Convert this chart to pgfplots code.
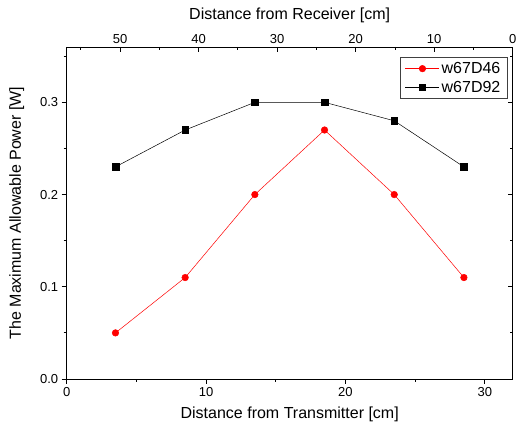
\documentclass[border=0pt]{standalone}
\usepackage{fontspec}
\setmainfont{Liberation Sans}
\usepackage{pgfplots}
\pgfplotsset{compat=1.18}
\begin{document}
\begin{tikzpicture}
\path[use as bounding box] (-66.7pt,-49pt) rectangle (450.3pt,379pt);
\pgfplotsset{
  common/.style={
    width=446pt, height=332pt, scale only axis,
    ymin=0, ymax=0.36,
    ytick={0,0.1,0.2,0.3}, minor ytick={0.05,0.15,0.25,0.35},
    axis line style={-, line width=0.8pt, black},
    major tick length=5pt, minor tick length=3pt,
    every tick/.style={black, line width=0.8pt},
    tick label style={font=\fontsize{13}{15}\selectfont},
    label style={font=\fontsize{16}{18}\selectfont},
    /pgf/number format/assume math mode=true,
  }
}
\begin{axis}[common,
  xmin=0, xmax=32,
  axis x line*=bottom, axis y line*=left, tick align=outside,
  xtick={0,10,20,30}, minor xtick={5,15,25},
  yticklabel style={/pgf/number format/fixed, /pgf/number format/fixed zerofill, /pgf/number format/precision=1},
  xlabel={Distance from Transmitter [cm]},
  ylabel={The Maximum Allowable Power [W]},
  x label style={at={(axis description cs:0.5,-0.108)}, anchor=center},
  y label style={at={(axis description cs:-0.112,0.5)}, anchor=center},
  legend style={at={(1,1)}, xshift=-5pt, yshift=-10pt, anchor=north east,
    draw=black!75, line width=0.6pt, font=\fontsize{16}{18}\selectfont,
    row sep=2pt, inner xsep=5pt, inner ysep=3pt},
  legend cell align=left,
  legend image code/.code={\draw[mark repeat=2, mark phase=2] plot coordinates {(0pt,0pt) (17pt,0pt) (34pt,0pt)};},
]
\addplot[red, line width=0.5pt, mark=*, mark size=3.3pt, mark options={fill=red, draw=red}]
  coordinates {(3.5,0.05) (8.5,0.11) (13.5,0.20) (18.5,0.27) (23.5,0.20) (28.5,0.11)};
\addlegendentry{w67D46}
\addplot[black, line width=0.5pt, mark=square*, mark size=3.3pt, mark options={fill=black}]
  coordinates {(3.5,0.23) (8.5,0.27) (13.5,0.30) (18.5,0.30) (23.5,0.28) (28.5,0.23)};
\addlegendentry{w67D92}
\end{axis}
\begin{axis}[common,
  xmin=0, xmax=56.8, x dir=reverse,
  axis x line*=top, axis y line*=right, tick align=inside,
  xtick={0,10,20,30,40,50}, minor xtick={5,15,25,35,45,55},
  yticklabels={},
  xlabel={Distance from Receiver [cm]},
  x label style={at={(axis description cs:0.5,1.095)}, anchor=center},
]
\addplot[draw=none] coordinates {(0,0)};
\end{axis}
\end{tikzpicture}
\end{document}
